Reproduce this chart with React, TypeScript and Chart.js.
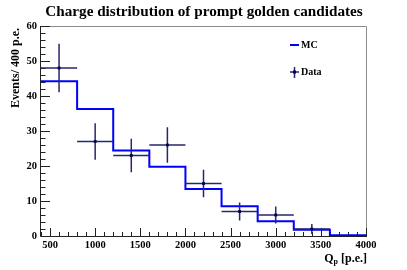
import React, { useEffect, useRef } from "react";
import { Chart, registerables } from "chart.js";

Chart.register(...registerables);

// ---- data ----
const binEdges = [400, 800, 1200, 1600, 2000, 2400, 2800, 3200, 3600, 4000];
const mcValues = [44.2, 36.3, 24.4, 19.8, 13.4, 8.5, 4.2, 1.8, 0.2];
const dataX = [600, 1000, 1400, 1800, 2200, 2600, 3000, 3400];
const dataY = [48, 27, 23, 26, 15, 7, 6, 2];
const dataErr = [6.9, 5.2, 4.8, 5.1, 3.9, 2.6, 2.4, 1.4];
const dataHalfWidth = 200;
const xTickValues = [500, 1000, 1500, 2000, 2500, 3000, 3500, 4000];
const yTickValues = [0, 10, 20, 30, 40, 50, 60];
const titleText = "Charge distribution of prompt golden candidates";
const yTitleText = "Events/ 400 p.e.";
const legendLabels = ["MC", "Data"];

const FONT = "'Liberation Serif', 'Times New Roman', serif";
const MC_COLOR = "#0000ff";
const DATA_COLOR = "#27276f";
const MARKER_COLOR = "#000050";

const rootPlugin = {
  id: "rootStyle",
  beforeDatasetsDraw(chart: any) {
    const { ctx, chartArea: a, scales } = chart;
    const x = scales.x;
    const y = scales.y;
    ctx.save();
    // frame (top/right)
    ctx.strokeStyle = "#8c8c8c";
    ctx.lineWidth = 1;
    ctx.beginPath();
    ctx.moveTo(a.left, a.top + 0.5);
    ctx.lineTo(a.right + 0.5, a.top + 0.5);
    ctx.lineTo(a.right + 0.5, a.bottom);
    ctx.stroke();
    // axes
    ctx.strokeStyle = "#222";
    ctx.beginPath();
    ctx.moveTo(a.left - 0.5, a.top);
    ctx.lineTo(a.left - 0.5, a.bottom + 0.5);
    ctx.lineTo(a.right + 1, a.bottom + 0.5);
    ctx.stroke();
    // x ticks
    ctx.beginPath();
    for (let v = x.min; v <= x.max + 1e-6; v += 100) {
      const px = Math.round(x.getPixelForValue(v)) + 0.5;
      const len = v % 500 === 0 ? 8 : 4;
      ctx.moveTo(px, a.bottom);
      ctx.lineTo(px, a.bottom - len);
    }
    // y ticks
    for (let v = y.min; v <= y.max + 1e-6; v += 2) {
      const py = Math.round(y.getPixelForValue(v)) + 0.5;
      const len = v % 10 === 0 ? 9 : 4.5;
      ctx.moveTo(a.left, py);
      ctx.lineTo(a.left + len, py);
    }
    ctx.stroke();
    ctx.restore();
  },
  beforeDatasetDraw(chart: any, args: any) {
    if (args.index !== 1) return;
    const { ctx, scales } = chart;
    const x = scales.x;
    const y = scales.y;
    ctx.save();
    ctx.strokeStyle = DATA_COLOR;
    ctx.lineWidth = 1.5;
    ctx.beginPath();
    dataX.forEach((vx, i) => {
      const px = x.getPixelForValue(vx);
      const py = y.getPixelForValue(dataY[i]);
      ctx.moveTo(x.getPixelForValue(vx - dataHalfWidth), py);
      ctx.lineTo(x.getPixelForValue(vx + dataHalfWidth), py);
      ctx.moveTo(px, y.getPixelForValue(dataY[i] - dataErr[i]));
      ctx.lineTo(px, y.getPixelForValue(dataY[i] + dataErr[i]));
    });
    ctx.stroke();
    ctx.restore();
  },
  afterDraw(chart: any) {
    const { ctx, chartArea: a } = chart;
    ctx.save();
    ctx.fillStyle = "#000";
    // title
    ctx.font = `bold 15.2px ${FONT}`;
    ctx.textAlign = "center";
    ctx.textBaseline = "middle";
    ctx.fillText(titleText, 204, 12);
    // y title
    ctx.save();
    ctx.translate(16, a.top + 2);
    ctx.rotate(-Math.PI / 2);
    ctx.font = `bold 12px ${FONT}`;
    ctx.textAlign = "right";
    ctx.textBaseline = "middle";
    ctx.fillText(yTitleText, 0, 0);
    ctx.restore();
    // x title: Q_p [p.e.]
    ctx.font = `bold 12px ${FONT}`;
    ctx.textBaseline = "alphabetic";
    ctx.textAlign = "left";
    const rest = " [p.e.]";
    const wQ = ctx.measureText("Q").width;
    const wRest = ctx.measureText(rest).width;
    ctx.font = `bold 8px ${FONT}`;
    const wP = ctx.measureText("p").width;
    const xEnd = a.right + 1;
    let xs = xEnd - wQ - wP - wRest;
    const base = 262;
    ctx.font = `bold 12px ${FONT}`;
    ctx.fillText("Q", xs, base);
    xs += wQ;
    ctx.font = `bold 8px ${FONT}`;
    ctx.fillText("p", xs, base + 2);
    xs += wP;
    ctx.font = `bold 12px ${FONT}`;
    ctx.fillText(rest, xs, base);
    // legend
    ctx.font = `bold 10px ${FONT}`;
    ctx.textBaseline = "middle";
    ctx.strokeStyle = MC_COLOR;
    ctx.lineWidth = 2;
    ctx.beginPath();
    ctx.moveTo(290, 45);
    ctx.lineTo(299, 45);
    ctx.stroke();
    ctx.fillText(legendLabels[0], 301, 45.5);
    ctx.strokeStyle = DATA_COLOR;
    ctx.lineWidth = 1.5;
    ctx.beginPath();
    ctx.moveTo(290, 72);
    ctx.lineTo(299, 72);
    ctx.moveTo(294.5, 67);
    ctx.lineTo(294.5, 78);
    ctx.stroke();
    ctx.fillStyle = MARKER_COLOR;
    ctx.fillRect(293, 70.5, 3, 3);
    ctx.fillStyle = "#000";
    ctx.fillText(legendLabels[1], 301, 72.5);
    ctx.restore();
  },
};

export default function App() {
  const ref = useRef<HTMLCanvasElement | null>(null);
  useEffect(() => {
    document.body.style.margin = "0";
    const canvas = ref.current;
    if (!canvas) return;
    const mcPoints = binEdges.map((e, i) => ({ x: e, y: mcValues[Math.min(i, mcValues.length - 1)] }));
    const dataPoints = dataX.map((vx, i) => ({ x: vx, y: dataY[i] }));
    const chart = new Chart(canvas, {
      type: "line",
      data: {
        datasets: [
          {
            label: "MC",
            data: mcPoints,
            borderColor: MC_COLOR,
            borderWidth: 2,
            stepped: true,
            pointRadius: 0,
            fill: false,
            order: 1,
          },
          {
            label: "Data",
            data: dataPoints,
            showLine: false,
            pointStyle: "rect",
            pointRadius: 2,
            backgroundColor: MARKER_COLOR,
            borderColor: MARKER_COLOR,
            borderWidth: 0,
            order: 0,
          },
        ],
      },
      options: {
        responsive: false,
        animation: false,
        events: [],
        layout: { padding: { top: 26, right: 41, left: 0, bottom: 0 } },
        plugins: { legend: { display: false }, tooltip: { enabled: false }, title: { display: false } },
        scales: {
          x: {
            type: "linear",
            min: 400,
            max: 4000,
            grid: { display: false, drawTicks: false },
            border: { display: false },
            afterFit: (s: any) => {
              s.height = 34;
            },
            afterBuildTicks: (s: any) => {
              s.ticks = xTickValues.map((v) => ({ value: v }));
            },
            ticks: {
              autoSkip: false,
              maxRotation: 0,
              padding: 3,
              color: "#000",
              font: { family: FONT, weight: "bold", size: 10.5 },
              callback: (v: any) => String(v),
            },
          },
          y: {
            type: "linear",
            min: 0,
            max: 60,
            grid: { display: false, drawTicks: false },
            border: { display: false },
            afterFit: (s: any) => {
              s.width = 41;
            },
            afterBuildTicks: (s: any) => {
              s.ticks = yTickValues.map((v) => ({ value: v }));
            },
            ticks: {
              autoSkip: false,
              padding: 4,
              color: "#000",
              font: { family: FONT, weight: "bold", size: 10.5 },
              callback: (v: any) => String(v),
            },
          },
        },
      },
      plugins: [rootPlugin],
    } as any);
    return () => chart.destroy();
  }, []);
  return (
    <div style={{ position: "absolute", left: 0, top: 0, width: 407, height: 270, background: "#fff" }}>
      <canvas ref={ref} width={407} height={270} style={{ display: "block" }} />
    </div>
  );
}
